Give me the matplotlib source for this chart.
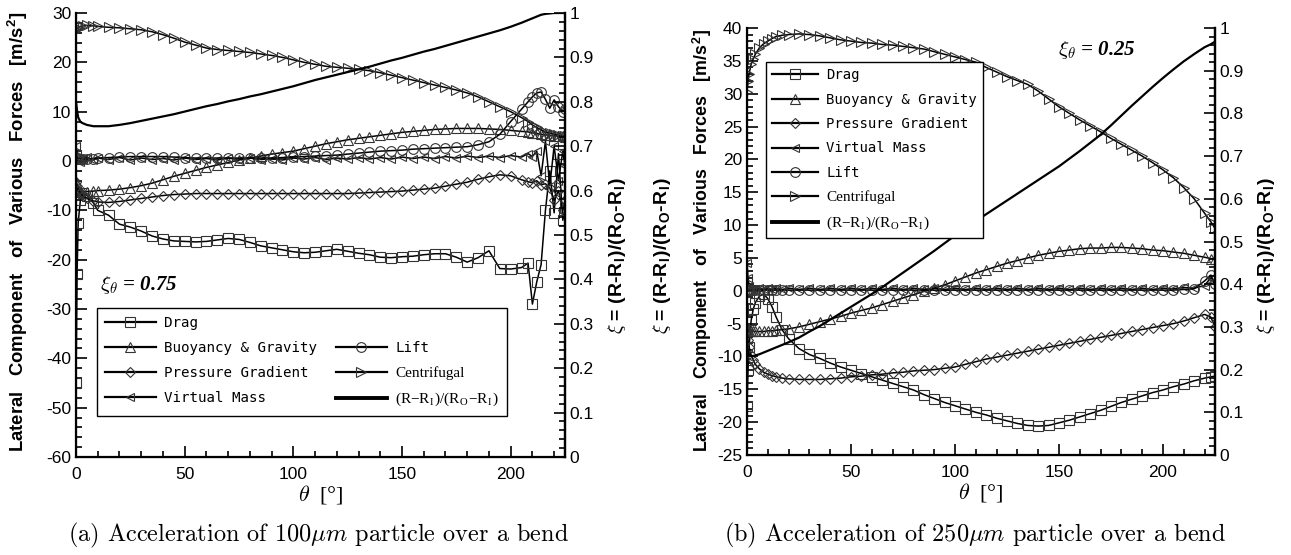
import numpy as np
import matplotlib
matplotlib.use("Agg")
import matplotlib.pyplot as plt
from matplotlib.lines import Line2D
from matplotlib.ticker import MultipleLocator

plt.rcParams['font.family'] = ['Liberation Sans', 'DejaVu Sans']
plt.rcParams['mathtext.fontset'] = 'cm'
plt.rcParams['mathtext.default'] = 'it'
plt.rcParams['axes.unicode_minus'] = False

# ---------------- (a) 100 um particle, xi_0 = 0.75 ----------------
theta_a = [0, 0.5, 1, 2, 3, 5, 8, 10, 15, 20, 25, 30, 35, 40, 45, 50, 55, 60, 65, 70,
           75, 80, 85, 90, 95, 100, 105, 110, 115, 120, 125, 130, 135, 140, 145, 150,
           155, 160, 165, 170, 175, 180, 185, 190, 195, 200, 205, 208, 210, 212, 214,
           216, 218, 220, 222, 224, 225]
drag_a = [-45, -23, -12.5, -8, -6.5, -7, -8.5, -10, -11, -12.8, -13.4, -14.2, -15.2, -15.8,
          -16.2, -16.3, -16.4, -16.3, -16.0, -15.7, -15.9, -16.5, -17.2, -17.6, -18.0,
          -18.4, -18.6, -18.5, -18.2, -17.9, -18.3, -18.7, -19.0, -19.5, -19.6, -19.4,
          -19.3, -19.0, -18.8, -18.8, -19.5, -20.5, -19.6, -18.2, -21.8, -21.9, -21.6,
          -20.7, -29.0, -24.5, -21.0, -10.0, -2.0, -10.5, 1.5, -12.0, -9.5]
buoy_a = [-4.2, -5.5, -6.0, -6.2, -6.2, -6.2, -6.1, -6.0, -5.9, -5.7, -5.4, -5.0, -4.5,
          -3.8, -3.1, -2.5, -1.9, -1.3, -0.8, -0.3, 0.2, 0.6, 1.0, 1.4, 1.7, 2.0, 2.5,
          3.0, 3.5, 3.9, 4.3, 4.6, 4.9, 5.2, 5.5, 5.8, 6.0, 6.2, 6.4, 6.5, 6.6, 6.6,
          6.6, 6.5, 6.4, 6.2, 6.0, 5.9, 5.7, 5.6, 5.4, 5.3, 5.2, 5.1, 5.0, 5.0, 4.9]
pres_a = [-4.2, -5.0, -5.8, -6.5, -7.0, -7.6, -8.1, -8.3, -8.4, -8.2, -7.9, -7.6, -7.3,
          -7.0, -6.8, -6.7, -6.6, -6.6, -6.6, -6.6, -6.6, -6.6, -6.6, -6.6, -6.6, -6.6,
          -6.6, -6.6, -6.6, -6.6, -6.6, -6.5, -6.4, -6.3, -6.2, -6.1, -5.9, -5.7, -5.5,
          -5.1, -4.7, -4.3, -3.7, -3.2, -2.8, -3.0, -3.8, -4.2, -4.4, -4.0, -4.8, -4.6,
          -5.5, -8.0, -6.0, -10.0, -8.0]
virt_a = [3.0, 1.5, 0.2, -0.3, 0.5, 0.8, 0.2, 0.6, 0.3, 0.7, 0.2, 0.6, 0.3, 0.5, 0.2,
          0.6, 0.3, 0.5, 0.2, 0.6, 0.3, 0.6, 0.3, 0.5, 0.2, 0.6, 0.4, 0.7, 0.3, 0.6,
          0.4, 0.7, 0.4, 0.7, 0.4, 0.8, 0.5, 0.8, 0.5, 0.9, 0.6, 1.0, 0.7, 1.0, 0.7,
          1.1, 0.8, 1.5, 0.9, 2.0, -3.0, 4.0, -5.0, 3.0, -4.0, 2.0, -1.0]
lift_a = [0.4, 0.5, 0.6, 0.5, 0.4, 0.4, 0.5, 0.6, 0.7, 0.8, 0.9, 0.9, 0.9, 0.9, 0.8,
          0.7, 0.6, 0.6, 0.6, 0.6, 0.6, 0.6, 0.6, 0.6, 0.7, 0.8, 0.9, 1.0, 1.1, 1.2,
          1.4, 1.6, 1.8, 2.0, 2.1, 2.2, 2.4, 2.5, 2.6, 2.7, 2.8, 2.9, 3.3, 3.9, 5.4,
          8.0, 10.5, 12.0, 13.0, 13.8, 14.0, 12.5, 10.7, 12.4, 11.0, 10.0, 10.5]
cent_a = [26.5, 26.8, 27.0, 27.3, 27.4, 27.5, 27.4, 27.3, 27.1, 27.0, 26.8, 26.6, 26.2,
          25.6, 24.9, 24.1, 23.5, 22.9, 22.6, 22.4, 22.2, 22.0, 21.7, 21.4, 21.0, 20.5,
          20.0, 19.6, 19.2, 19.0, 18.8, 18.6, 18.3, 17.9, 17.4, 16.9, 16.4, 15.9, 15.4,
          14.9, 14.4, 13.8, 13.0, 12.0, 11.0, 10.0, 8.8, 8.0, 7.3, 6.8, 6.3, 5.9, 5.6,
          5.4, 5.2, 5.0, 5.0]
xi_a = [0.80, 0.78, 0.765, 0.755, 0.752, 0.748, 0.745, 0.745, 0.745, 0.748, 0.752, 0.757,
        0.762, 0.767, 0.772, 0.778, 0.784, 0.79, 0.795, 0.801, 0.806, 0.812, 0.817,
        0.823, 0.829, 0.835, 0.842, 0.849, 0.855, 0.861, 0.867, 0.873, 0.879, 0.886,
        0.893, 0.899, 0.906, 0.913, 0.919, 0.926, 0.933, 0.94, 0.947, 0.954, 0.961,
        0.969, 0.978, 0.984, 0.988, 0.992, 0.996, 0.998, 0.999, 1.0, 1.0, 1.0, 1.0]

# ---------------- (b) 250 um particle, xi_0 = 0.25 ----------------
theta_b = [0, 0.5, 1, 2, 3, 4, 6, 8, 10, 12, 14, 17, 20, 25, 30, 35, 40, 45, 50, 55, 60,
           65, 70, 75, 80, 85, 90, 95, 100, 105, 110, 115, 120, 125, 130, 135, 140, 145,
           150, 155, 160, 165, 170, 175, 180, 185, 190, 195, 200, 205, 210, 215, 220,
           223, 225]
drag_b = [-17.5, -12, -8.5, -4.5, -2.8, -1.8, -0.8, -0.5, -1.2, -2.4, -4.0, -6.0, -7.3,
          -8.8, -9.7, -10.3, -11.0, -11.6, -12.1, -12.6, -13.1, -13.6, -14.1, -14.6,
          -15.1, -15.8, -16.4, -17.0, -17.5, -18.0, -18.5, -18.9, -19.4, -19.8, -20.2,
          -20.5, -20.6, -20.5, -20.1, -19.7, -19.2, -18.7, -18.2, -17.6, -17.0, -16.5,
          -16.0, -15.5, -15.1, -14.6, -14.2, -13.7, -13.3, -13.1, -13.0]
buoy_b = [-6.2, -6.2, -6.2, -6.2, -6.2, -6.2, -6.2, -6.2, -6.1, -6.1, -6.0, -5.9, -5.8,
          -5.5, -5.1, -4.7, -4.3, -3.9, -3.4, -3.0, -2.6, -2.1, -1.6, -1.1, -0.6, -0.1,
          0.4, 0.9, 1.5, 2.1, 2.7, 3.2, 3.7, 4.2, 4.6, 5.0, 5.4, 5.7, 6.0, 6.2, 6.4,
          6.5, 6.5, 6.6, 6.6, 6.5, 6.4, 6.2, 6.1, 5.9, 5.7, 5.4, 5.1, 4.9, 4.8]
pres_b = [-6.0, -7.5, -8.5, -9.8, -10.6, -11.2, -11.9, -12.4, -12.7, -12.9, -13.1, -13.3,
          -13.4, -13.5, -13.5, -13.5, -13.4, -13.3, -13.1, -13.0, -12.8, -12.7, -12.5,
          -12.4, -12.2, -12.1, -12.0, -11.8, -11.6, -11.2, -10.8, -10.4, -10.1, -9.8,
          -9.5, -9.2, -8.9, -8.6, -8.3, -8.0, -7.7, -7.4, -7.1, -6.8, -6.5, -6.2, -5.9,
          -5.6, -5.3, -5.0, -4.6, -4.1, -3.6, -4.0, -5.5]
virt_b = [4.2, 2.0, 0.8, 0.2, 0.3, 0.2, 0.4, 0.2, 0.4, 0.2, 0.4, 0.2, 0.4, 0.2, 0.4,
          0.2, 0.4, 0.2, 0.4, 0.2, 0.4, 0.2, 0.4, 0.2, 0.4, 0.2, 0.4, 0.2, 0.4, 0.2,
          0.4, 0.2, 0.4, 0.2, 0.4, 0.2, 0.4, 0.2, 0.4, 0.2, 0.4, 0.2, 0.4, 0.2, 0.4,
          0.2, 0.4, 0.2, 0.4, 0.3, 0.5, 0.4, 0.8, 2.0, 1.2]
lift_b = [0.1, 0.1, 0.1, 0.1, 0.1, 0.1, 0.1, 0.1, 0.1, 0.1, 0.1, 0.1, 0.1, 0.1, 0.1,
          0.1, 0.1, 0.1, 0.1, 0.1, 0.1, 0.1, 0.1, 0.1, 0.1, 0.1, 0.1, 0.1, 0.1, 0.1,
          0.1, 0.1, 0.1, 0.1, 0.1, 0.1, 0.1, 0.1, 0.1, 0.1, 0.1, 0.1, 0.1, 0.1, 0.1,
          0.1, 0.1, 0.1, 0.1, 0.1, 0.2, 0.3, 1.5, 2.4, 1.0]
cent_b = [30.3, 32.0, 33.0, 34.5, 35.3, 36.0, 37.0, 37.6, 38.0, 38.4, 38.7, 38.9, 39.0,
          39.1, 39.0, 38.8, 38.5, 38.2, 38.0, 37.8, 37.7, 37.5, 37.4, 37.2, 37.0, 36.8,
          36.4, 36.0, 35.6, 35.2, 34.8, 34.0, 33.3, 32.6, 32.0, 31.4, 30.4, 29.2, 28.0,
          27.0, 26.0, 25.1, 24.2, 23.2, 22.3, 21.4, 20.5, 19.5, 18.4, 17.2, 15.7, 14.0,
          11.8, 10.5, 9.5]
xi_b = [0.25, 0.24, 0.235, 0.232, 0.232, 0.233, 0.236, 0.24, 0.244, 0.248, 0.252, 0.258,
        0.264, 0.275, 0.289, 0.302, 0.317, 0.332, 0.347, 0.362, 0.377, 0.393, 0.41,
        0.427, 0.444, 0.461, 0.478, 0.496, 0.514, 0.531, 0.548, 0.564, 0.58, 0.596,
        0.612, 0.628, 0.644, 0.66, 0.676, 0.694, 0.712, 0.731, 0.75, 0.772, 0.795,
        0.818, 0.84, 0.862, 0.883, 0.903, 0.922, 0.939, 0.955, 0.962, 0.968]

xi_ratio = r'(R$\mathregular{-}$R$_\mathregular{I}$)/(R$_\mathregular{O}$$\mathregular{-}$R$_\mathregular{I}$)'
labels = ['Drag', 'Buoyancy & Gravity', 'Pressure Gradient', 'Virtual Mass', 'Lift',
          'Centrifugal', xi_ratio]
serif_labels = ['Centrifugal', xi_ratio]
markers = ['s', '^', 'D', '<', 'o', '>']
msizes = [6.5, 6.5, 5.0, 6.0, 7.0, 6.5]
xi_text = r'$\xi$ = (R-R$_\mathregular{I}$)/(R$_\mathregular{O}$-R$_\mathregular{I}$)'
ylab = 'Lateral   Component   of   Various   Forces   [m/s$^\\mathregular{2}$]'

fig = plt.figure(figsize=(12.91, 5.55), dpi=100)
axA = fig.add_axes([76 / 1291, 1 - 457 / 555, 489 / 1291, 444 / 555])
axB = fig.add_axes([747 / 1291, 1 - 455 / 555, 468 / 1291, 427 / 555])


def draw(ax, th, series, xi, ylim, ymaj, ymin):
    handles = []
    for vals, m, ms, lab in zip(series, markers, msizes, labels):
        h, = ax.plot(th, vals, color='black', lw=1.1, marker=m, ms=ms, mfc='none',
                     mec='#333333', mew=0.8, label=lab)
        handles.append(h)
    ax.set_xlim(0, 225)
    ax.set_ylim(*ylim)
    ax.xaxis.set_major_locator(MultipleLocator(50))
    ax.xaxis.set_minor_locator(MultipleLocator(10))
    ax.yaxis.set_major_locator(MultipleLocator(ymaj))
    ax.yaxis.set_minor_locator(MultipleLocator(ymin))
    ax.tick_params(which='both', direction='in', labelsize=12.5, width=1.2)
    ax.tick_params(which='major', length=8)
    ax.tick_params(which='minor', length=4)
    ax.tick_params(axis='x', pad=7)
    ax.spines['top'].set_visible(False)
    for s in ['left', 'bottom', 'right']:
        ax.spines[s].set_linewidth(1.6)
    ax2 = ax.twinx()
    hx, = ax2.plot(th, xi, color='black', lw=1.6, label=labels[6])
    handles.append(hx)
    ax2.set_ylim(0, 1)
    ax2.yaxis.set_minor_locator(MultipleLocator(0.02))
    ax2.set_yticks(np.arange(0, 1.01, 0.1))
    ax2.set_yticklabels(['0', '0.1', '0.2', '0.3', '0.4', '0.5', '0.6', '0.7', '0.8', '0.9', '1'])
    ax2.tick_params(which='both', direction='in', labelsize=12.5, width=1.2)
    ax2.tick_params(which='major', length=8)
    ax2.tick_params(which='minor', length=4)
    ax2.spines['top'].set_visible(False)
    ax2.spines['right'].set_linewidth(1.6)
    ax.set_xlabel(r'$\theta$  [°]', fontsize=16, family='Liberation Serif', labelpad=1)
    return handles


hA = draw(axA, theta_a, [drag_a, buoy_a, pres_a, virt_a, lift_a, cent_a], xi_a, (-60, 30), 10, 2)
hB = draw(axB, theta_b, [drag_b, buoy_b, pres_b, virt_b, lift_b, cent_b], xi_b, (-25, 40), 5, 1)


def style_legend(leg):
    fr = leg.get_frame()
    fr.set_edgecolor('black')
    fr.set_linewidth(1.0)
    for t in leg.get_texts():
        if t.get_text() in serif_labels:
            t.set_family('Liberation Serif')
            t.set_fontsize(11)
        else:
            t.set_family('DejaVu Sans Mono')
    for l in leg.get_lines():
        l.set_linewidth(1.6)
    leg.get_lines()[-1].set_linewidth(2.8)


blank = Line2D([], [], color='none')
legA = fig.legend(hA[:4] + [blank] + hA[4:], labels[:4] + [''] + labels[4:], ncol=2,
                  loc='upper left', bbox_to_anchor=(97 / 1291, 1 - 308 / 555),
                  fancybox=False, framealpha=1, fontsize=10.2, handlelength=3.6,
                  labelspacing=0.78, columnspacing=1.3, borderpad=0.55, handletextpad=0.6,
                  borderaxespad=0)
style_legend(legA)
legB = fig.legend(hB, labels, ncol=1, loc='upper left', bbox_to_anchor=(766 / 1291, 1 - 62 / 555),
                  fancybox=False, framealpha=1, fontsize=10.0, handlelength=3.3,
                  labelspacing=0.75, borderpad=0.45, handletextpad=0.6, borderaxespad=0)
style_legend(legB)

# axis labels
fig.text(18 / 1291, 1 - 232 / 555, ylab, rotation=90, ha='center', va='center',
         fontsize=13.3, fontweight='bold')
fig.text(702 / 1291, 1 - 240 / 555, ylab, rotation=90, ha='center', va='center',
         fontsize=12.8, fontweight='bold')
for x in (617, 662, 1266):
    fig.text(x / 1291, 1 - 256 / 555, xi_text, rotation=90, ha='center', va='center',
             fontsize=14, fontweight='bold')

# annotations
fig.text(100 / 1291, 1 - 285 / 555, r'$\xi_\theta$ = 0.75', fontsize=15, family='Liberation Serif',
         fontweight='bold', style='italic', va='center')
fig.text(1058 / 1291, 1 - 50 / 555, r'$\xi_\theta$ = 0.25', fontsize=15, family='Liberation Serif',
         fontweight='bold', style='italic', va='center')

# captions
fig.text(318 / 1291, 1 - 535 / 555, r'(a) Acceleration of 100$\mu m$ particle over a bend',
         fontsize=17.5, family='cmr10', ha='center', va='center')
fig.text(975 / 1291, 1 - 535 / 555, r'(b) Acceleration of 250$\mu m$ particle over a bend',
         fontsize=17.5, family='cmr10', ha='center', va='center')

fig.savefig('out.png', dpi=100)
